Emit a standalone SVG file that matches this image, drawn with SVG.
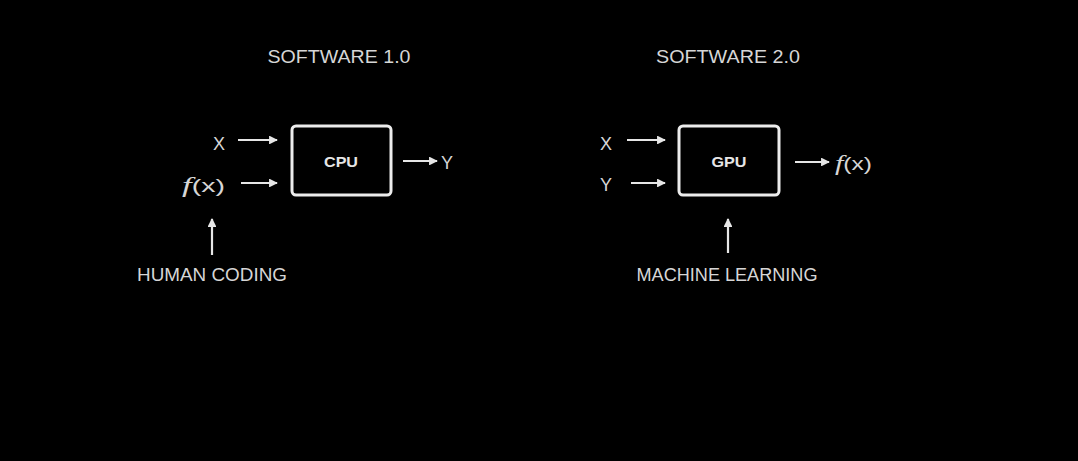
<svg xmlns="http://www.w3.org/2000/svg" width="1078" height="461" viewBox="0 0 1078 461">
<style>
.t{font-family:"Liberation Sans",Arial,sans-serif;fill:#d6d6d6;}
.title{font-size:18px;}
.lbl{font-size:18px;}
.chip{font-size:15px;font-weight:bold;fill:#e6e6e6;}
.f{font-family:"Liberation Serif",serif;font-style:italic;font-size:22px;}
.box{fill:none;stroke:#ececec;stroke-width:3;}
.arr{stroke:#e6e6e6;stroke-width:2.2;fill:none;marker-end:url(#ah);}
</style>
<defs>
<marker id="ah" viewBox="0 0 10 10" refX="9" refY="5" markerWidth="4" markerHeight="4" orient="auto" markerUnits="strokeWidth">
<path d="M0,0 L10,5 L0,10 Z" fill="#e6e6e6"/>
</marker>
</defs>
<rect width="1078" height="461" fill="#000"/>
<g id="sw1">
<text class="t title" x="339" y="63" text-anchor="middle" textLength="143" lengthAdjust="spacingAndGlyphs">SOFTWARE 1.0</text>
<g id="cpu">
<rect class="box" x="292" y="126" width="99" height="69" rx="4"/>
<text class="t chip" x="341" y="167" text-anchor="middle" textLength="34" lengthAdjust="spacingAndGlyphs">CPU</text>
</g>
<text id="x1" class="t lbl" x="219" y="150" text-anchor="middle">X</text>
<text id="fx1" class="t lbl" x="182" y="192" textLength="43" lengthAdjust="spacingAndGlyphs"><tspan class="f">f</tspan>(x)</text>
<text id="y1" class="t lbl" x="447" y="169" text-anchor="middle">Y</text>
<text id="human" class="t lbl" x="212" y="281" text-anchor="middle" textLength="150" lengthAdjust="spacingAndGlyphs">HUMAN CODING</text>
</g>
<g id="sw2">
<text class="t title" x="728" y="63" text-anchor="middle" textLength="144" lengthAdjust="spacingAndGlyphs">SOFTWARE 2.0</text>
<g id="gpu">
<rect class="box" x="679" y="126" width="100" height="69" rx="4"/>
<text class="t chip" x="729" y="167" text-anchor="middle" textLength="35" lengthAdjust="spacingAndGlyphs">GPU</text>
</g>
<text id="x2" class="t lbl" x="606" y="150" text-anchor="middle">X</text>
<text id="y2" class="t lbl" x="606" y="191" text-anchor="middle">Y</text>
<text id="fx2" class="t lbl" x="835" y="170" textLength="37" lengthAdjust="spacingAndGlyphs"><tspan class="f">f</tspan>(x)</text>
<text id="ml" class="t lbl" x="727" y="281" text-anchor="middle" textLength="181" lengthAdjust="spacingAndGlyphs">MACHINE LEARNING</text>
</g>
<g id="connectors">
<line class="arr" x1="238" y1="140" x2="277" y2="140"/>
<line class="arr" x1="241" y1="183" x2="277" y2="183"/>
<line class="arr" x1="403" y1="161" x2="437" y2="161"/>
<line class="arr" x1="212" y1="255" x2="212" y2="219"/>
<line class="arr" x1="627" y1="140" x2="665" y2="140"/>
<line class="arr" x1="631" y1="183" x2="665" y2="183"/>
<line class="arr" x1="795" y1="162" x2="829" y2="162"/>
<line class="arr" x1="728" y1="253" x2="728" y2="219"/>
</g>
</svg>
